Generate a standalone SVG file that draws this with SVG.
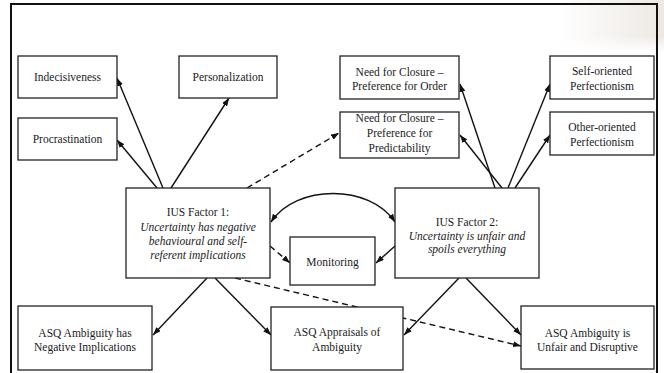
<svg xmlns="http://www.w3.org/2000/svg" width="664" height="373" viewBox="0 0 664 373">
<style>
.box{fill:#fff;stroke:#222;stroke-width:1.3}
.t{font-family:'Liberation Serif','DejaVu Serif',serif;font-size:11.5px;fill:#1a1a24;text-anchor:middle}
.i{font-style:italic}
.c{fill:none;stroke:#111;stroke-width:1.4}
.d{stroke-dasharray:6,4}
</style>
<defs>
<marker id="ah" viewBox="0 0 8 6" refX="8" refY="3" markerWidth="8" markerHeight="6" markerUnits="userSpaceOnUse" orient="auto">
<path d="M0,0 L8,3 L0,6 z" fill="#111"/>
</marker>
<marker id="ahs" viewBox="0 0 8 6" refX="0" refY="3" markerWidth="8" markerHeight="6" markerUnits="userSpaceOnUse" orient="auto">
<path d="M8,0 L0,3 L8,6 z" fill="#111"/>
</marker>
<linearGradient id="sh" x1="0" y1="0" x2="1" y2="0">
<stop offset="0" stop-color="#ede8e3" stop-opacity="0"/>
<stop offset="1" stop-color="#ede8e3" stop-opacity="1"/>
</linearGradient>
<linearGradient id="shv" x1="0" y1="0" x2="0" y2="1">
<stop offset="0" stop-color="#fff" stop-opacity="0"/>
<stop offset="0.7" stop-color="#fff" stop-opacity="0"/>
<stop offset="1" stop-color="#fff" stop-opacity="1"/>
</linearGradient>
</defs>
<rect x="0" y="0" width="664" height="373" fill="#fff"/>
<rect x="560" y="0" width="104" height="52" fill="url(#sh)"/>
<rect x="560" y="0" width="104" height="52" fill="url(#shv)"/>
<rect x="11" y="4" width="646" height="380" fill="none" stroke="#111" stroke-width="2"/>

<g id="connectors">
<line class="c" x1="163" y1="188" x2="117" y2="78" marker-end="url(#ah)"/>
<line class="c" x1="157" y1="188" x2="117" y2="140" marker-end="url(#ah)"/>
<line class="c" x1="171" y1="188" x2="229" y2="98" marker-end="url(#ah)"/>
<line class="c d" x1="247" y1="188" x2="339" y2="133" marker-end="url(#ah)"/>
<line class="c" x1="495" y1="188" x2="460" y2="84" marker-end="url(#ah)"/>
<line class="c" x1="502" y1="188" x2="460" y2="135" marker-end="url(#ah)"/>
<line class="c" x1="508" y1="188" x2="550" y2="84" marker-end="url(#ah)"/>
<line class="c" x1="515" y1="188" x2="550" y2="135" marker-end="url(#ah)"/>
<path class="c" d="M271,222 C296,184 370,184 395,222" marker-start="url(#ahs)" marker-end="url(#ah)"/>
<line class="c d" x1="270" y1="246" x2="290" y2="263" marker-end="url(#ah)"/>
<line class="c" x1="395" y1="246" x2="376" y2="263" marker-end="url(#ah)"/>
<line class="c" x1="207" y1="278" x2="153" y2="335" marker-end="url(#ah)"/>
<line class="c" x1="215" y1="278" x2="271" y2="335" marker-end="url(#ah)"/>
<line class="c d" x1="235" y1="278" x2="521" y2="346" marker-end="url(#ah)"/>
<line class="c" x1="459" y1="278" x2="404" y2="335" marker-end="url(#ah)"/>
<line class="c" x1="466" y1="278" x2="521" y2="335" marker-end="url(#ah)"/>
</g>

<g id="indecisiveness">
<rect class="box" x="18" y="56" width="99" height="42"/>
<text class="t" x="67.5" y="81">Indecisiveness</text>
</g>
<g id="personalization">
<rect class="box" x="179" y="56" width="98" height="42"/>
<text class="t" x="228" y="81">Personalization</text>
</g>
<g id="procrastination">
<rect class="box" x="18" y="118" width="99" height="42"/>
<text class="t" x="67.5" y="143">Procrastination</text>
</g>
<g id="nfc-order">
<rect class="box" x="340" y="56" width="119" height="43"/>
<text class="t" x="399.5" y="76">Need for Closure –</text>
<text class="t" x="399.5" y="89.5">Preference for Order</text>
</g>
<g id="nfc-predictability">
<rect class="box" x="340" y="112" width="119" height="46"/>
<text class="t" x="399.5" y="122">Need for Closure –</text>
<text class="t" x="399.5" y="137">Preference for</text>
<text class="t" x="399.5" y="152">Predictability</text>
</g>
<g id="self-oriented">
<rect class="box" x="550" y="56" width="104" height="43"/>
<text class="t" x="602" y="75">Self-oriented</text>
<text class="t" x="602" y="89.5">Perfectionism</text>
</g>
<g id="other-oriented">
<rect class="box" x="550" y="112" width="104" height="43"/>
<text class="t" x="602" y="131">Other-oriented</text>
<text class="t" x="602" y="145.5">Perfectionism</text>
</g>
<g id="ius1">
<rect class="box" x="126" y="188" width="144" height="90"/>
<text class="t" x="198" y="216">IUS Factor 1:</text>
<text class="t i" x="198" y="231">Uncertainty has negative</text>
<text class="t i" x="198" y="245">behavioural and self-</text>
<text class="t i" x="198" y="259">referent implications</text>
</g>
<g id="ius2">
<rect class="box" x="395" y="188" width="144" height="90"/>
<text class="t" x="467" y="226">IUS Factor 2:</text>
<text class="t i" x="467" y="239.5">Uncertainty is unfair and</text>
<text class="t i" x="467" y="253">spoils everything</text>
</g>
<g id="monitoring">
<rect class="box" x="290" y="237" width="85" height="48"/>
<text class="t" x="332.5" y="266">Monitoring</text>
</g>
<g id="asq-negative">
<rect class="box" x="18" y="306" width="134" height="64"/>
<text class="t" x="85" y="337">ASQ Ambiguity has</text>
<text class="t" x="85" y="350.5">Negative Implications</text>
</g>
<g id="asq-appraisals">
<rect class="box" x="271" y="307" width="132" height="63"/>
<text class="t" x="337" y="336">ASQ Appraisals of</text>
<text class="t" x="337" y="351">Ambiguity</text>
</g>
<g id="asq-unfair">
<rect class="box" x="521" y="306" width="133" height="63"/>
<text class="t" x="587.5" y="337">ASQ Ambiguity is</text>
<text class="t" x="587.5" y="350.5">Unfair and Disruptive</text>
</g>
</svg>
